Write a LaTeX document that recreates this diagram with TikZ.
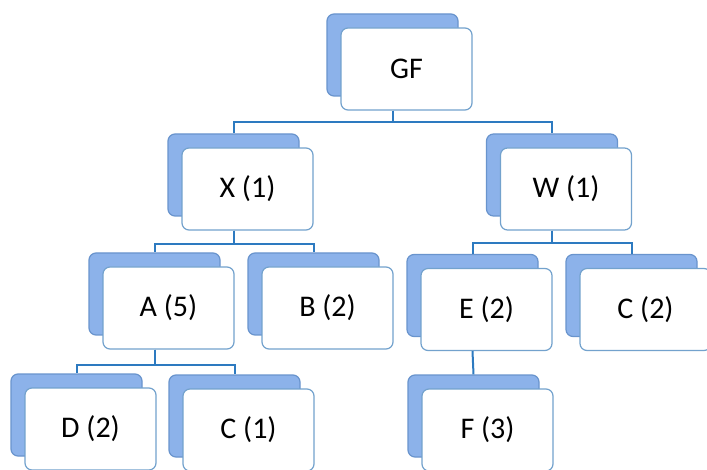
\documentclass[tikz,border=0pt]{standalone}
\usepackage{fontspec}
\setmainfont{Carlito}
\usetikzlibrary{shadows}
\definecolor{shadowfill}{RGB}{140,178,234}
\definecolor{shadowdraw}{RGB}{105,148,205}
\definecolor{boxdraw}{RGB}{115,162,205}
\definecolor{linecol}{RGB}{45,122,192}
\begin{document}
\begin{tikzpicture}[x=1pt,y=-1pt,
  card/.style={draw=boxdraw, line width=1.2pt, fill=white, rounded corners=7pt,
    minimum width=131pt, minimum height=82pt, inner sep=0pt,
    font=\fontsize{30}{36}\selectfont,
    general shadow={shadow xshift=-14pt, shadow yshift=14pt, fill=shadowfill, draw=shadowdraw, line width=1.2pt}},
  conn/.style={draw=linecol, line width=2pt}]
\fill[white] (0,0) rectangle (707,470);
\useasboundingbox (0,0) rectangle (707,470);

\node[card] (gf) at (406.5,69) {GF};
\node[card] (x)  at (247.5,189) {X (1)};
\node[card] (w)  at (566,189) {W (1)};
\node[card] (a)  at (168.5,308) {A (5)};
\node[card] (b)  at (327.5,308) {B (2)};
\node[card] (e)  at (486.5,309.5) {E (2)};
\node[card] (c2) at (645.5,309.5) {C (2)};
\node[card] (d)  at (90.5,429) {D (2)};
\node[card] (c1) at (248.5,430) {C (1)};
\node[card] (f)  at (487.5,430) {F (3)};

\draw[conn] ([xshift=-14pt]gf.south) -- ++(0,11) -| ([xshift=-14pt,yshift=14pt]x.north);
\draw[conn] ([xshift=-14pt]gf.south) -- ++(0,11) -| ([xshift=-14pt,yshift=14pt]w.north);
\draw[conn] ([xshift=-14pt]x.south) -- ++(0,13) -| ([xshift=-14pt,yshift=14pt]a.north);
\draw[conn] ([xshift=-14pt]x.south) -- ++(0,13) -| ([xshift=-14pt,yshift=14pt]b.north);
\draw[conn] ([xshift=-14pt]w.south) -- ++(0,12) -| ([xshift=-14pt,yshift=14pt]e.north);
\draw[conn] ([xshift=-14pt]w.south) -- ++(0,12) -| ([xshift=-14pt,yshift=14pt]c2.north);
\draw[conn] ([xshift=-14pt]a.south) -- ++(0,15) -| ([xshift=-14pt,yshift=14pt]d.north);
\draw[conn] ([xshift=-14pt]a.south) -- ++(0,15) -| ([xshift=-14pt,yshift=14pt]c1.north);
\draw[conn] ([xshift=-14pt]e.south) -- ([xshift=-14pt,yshift=14pt]f.north);
\end{tikzpicture}
\end{document}
